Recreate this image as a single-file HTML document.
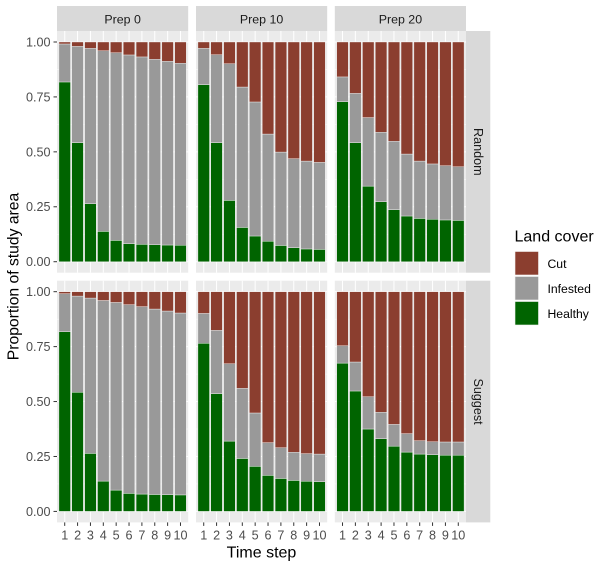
<!DOCTYPE html>
<html lang="en">
<head>
<meta charset="utf-8">
<title>Proportion of study area by land cover</title>
<style>
html,body{margin:0;padding:0;background:#fff;width:600px;height:567px;overflow:hidden}
svg{display:block}
text{font-family:"Liberation Sans",Arial,sans-serif}
</style>
</head>
<body>
<svg id="chart" xmlns="http://www.w3.org/2000/svg" width="600" height="567" viewBox="0 0 600 567">
  <rect x="0" y="0" width="600" height="567" fill="#fff"/>
  <g id="panels"></g>
  <g id="strips"></g>
  <g id="axes"></g>
  <text transform="translate(18.5,276.5) rotate(-90)" text-anchor="middle" font-size="15.7" fill="#000">Proportion of study area</text>
  <text x="261.5" y="557.5" text-anchor="middle" font-size="16" fill="#000">Time step</text>
  <g>
    <text x="514.5" y="241.5" font-size="16" fill="#000">Land cover</text>
    <g>
      <rect x="515" y="251.5" width="23.5" height="23.5" fill="#8b3e2f" stroke="#f2f2f2" stroke-width="0.6"/>
      <text x="547.5" y="268" font-size="12.2" fill="#000">Cut</text>
    </g>
    <g>
      <rect x="515" y="276.5" width="23.5" height="23.5" fill="#999999" stroke="#f2f2f2" stroke-width="0.6"/>
      <text x="547.5" y="293" font-size="12.2" fill="#000">Infested</text>
    </g>
    <g>
      <rect x="515" y="301.5" width="23.5" height="23.5" fill="#006400" stroke="#f2f2f2" stroke-width="0.6"/>
      <text x="547.5" y="318" font-size="12.2" fill="#000">Healthy</text>
    </g>
  </g>
</svg>
<script>
var timeSteps = [1, 2, 3, 4, 5, 6, 7, 8, 9, 10];
var yTicks = [0, 0.25, 0.5, 0.75, 1];
var yTickLabels = ["0.00", "0.25", "0.50", "0.75", "1.00"];
var prepLabels = ["Prep 0", "Prep 10", "Prep 20"];
var strategyLabels = ["Random", "Suggest"];

var healthyRandom0 = [0.818, 0.542, 0.264, 0.138, 0.097, 0.082, 0.079, 0.077, 0.076, 0.075];
var infestedRandom0 = [0.173, 0.438, 0.707, 0.822, 0.854, 0.859, 0.853, 0.844, 0.836, 0.828];
var cutRandom0 = [0.009, 0.020, 0.029, 0.040, 0.049, 0.059, 0.068, 0.079, 0.088, 0.097];

var healthyRandom10 = [0.806, 0.542, 0.279, 0.156, 0.117, 0.093, 0.074, 0.064, 0.058, 0.056];
var infestedRandom10 = [0.165, 0.400, 0.622, 0.639, 0.610, 0.488, 0.425, 0.405, 0.400, 0.396];
var cutRandom10 = [0.029, 0.058, 0.099, 0.205, 0.273, 0.419, 0.501, 0.531, 0.542, 0.548];

var healthyRandom20 = [0.728, 0.542, 0.344, 0.273, 0.237, 0.208, 0.197, 0.193, 0.190, 0.188];
var infestedRandom20 = [0.113, 0.224, 0.312, 0.316, 0.311, 0.282, 0.261, 0.252, 0.247, 0.244];
var cutRandom20 = [0.159, 0.234, 0.344, 0.411, 0.452, 0.510, 0.542, 0.555, 0.563, 0.568];

var healthySuggest0 = [0.818, 0.542, 0.264, 0.138, 0.097, 0.082, 0.079, 0.077, 0.076, 0.075];
var infestedSuggest0 = [0.173, 0.438, 0.707, 0.822, 0.854, 0.859, 0.853, 0.844, 0.836, 0.828];
var cutSuggest0 = [0.009, 0.020, 0.029, 0.040, 0.049, 0.059, 0.068, 0.079, 0.088, 0.097];

var healthySuggest10 = [0.765, 0.536, 0.320, 0.241, 0.205, 0.164, 0.150, 0.141, 0.137, 0.135];
var infestedSuggest10 = [0.136, 0.288, 0.352, 0.319, 0.243, 0.149, 0.140, 0.128, 0.126, 0.126];
var cutSuggest10 = [0.099, 0.176, 0.328, 0.440, 0.552, 0.687, 0.710, 0.731, 0.737, 0.739];

var healthySuggest20 = [0.675, 0.548, 0.375, 0.331, 0.297, 0.270, 0.261, 0.258, 0.256, 0.256];
var infestedSuggest20 = [0.079, 0.132, 0.147, 0.120, 0.099, 0.084, 0.061, 0.059, 0.060, 0.060];
var cutSuggest20 = [0.246, 0.320, 0.478, 0.549, 0.604, 0.646, 0.678, 0.683, 0.684, 0.684];

var panelData = [
  [[healthyRandom0, infestedRandom0, cutRandom0], [healthyRandom10, infestedRandom10, cutRandom10], [healthyRandom20, infestedRandom20, cutRandom20]],
  [[healthySuggest0, infestedSuggest0, cutSuggest0], [healthySuggest10, infestedSuggest10, cutSuggest10], [healthySuggest20, infestedSuggest20, cutSuggest20]]
];

var NS = 'http://www.w3.org/2000/svg';
var colLeft = [57, 196, 334.8];
var panelW = 131.2;
var rowTop = [31, 280.7];
var panelH = 241.7;
var stripTopY = 6;
var stripTopH = 25;
var stripRightX = 466;
var stripRightW = 24.3;
var seriesColors = ['#006400', '#999999', '#8b3e2f'];
var seriesNames = ['healthy', 'infested', 'cut'];

function xScale(step, col) {
  return colLeft[col] + (step - 1 + 0.6) * panelW / 10.2;
}
function yScale(v, row) {
  var plotH = panelH / 1.1;
  return rowTop[row] + panelH - plotH * 0.05 - v * plotH;
}
function make(tag, attrs, parent) {
  var el = document.createElementNS(NS, tag);
  for (var k in attrs) el.setAttribute(k, attrs[k]);
  parent.appendChild(el);
  return el;
}

var panels = document.getElementById('panels');
var strips = document.getElementById('strips');
var axes = document.getElementById('axes');

strategyLabels.forEach(function (strategy, r) {
  prepLabels.forEach(function (prep, c) {
    var g = make('g', {}, panels);
    
    
    var bg = make('rect', { x: colLeft[c], y: rowTop[r], width: panelW, height: panelH, fill: '#ebebeb' }, g);
    
    
    yTicks.forEach(function (t) {
      var gy = yScale(t, r);
      var line = make('line', { x1: colLeft[c], x2: colLeft[c] + panelW, y1: gy, y2: gy, stroke: '#fff', 'stroke-width': 1 }, g);
      
      
      if (t < 1) {
        var my = yScale(t + 0.125, r);
        var minor = make('line', { x1: colLeft[c], x2: colLeft[c] + panelW, y1: my, y2: my, stroke: '#fff', 'stroke-width': 0.5 }, g);
        
        
      }
    });
    timeSteps.forEach(function (s) {
      var gx = xScale(s, c);
      var vline = make('line', { x1: gx, x2: gx, y1: rowTop[r], y2: rowTop[r] + panelH, stroke: '#fff', 'stroke-width': 1 }, g);
      
      
    });
    var bw = 0.9 * panelW / 10.2;
    var series = panelData[r][c];
    timeSteps.forEach(function (s, i) {
      var base = 0;
      series.forEach(function (vals, k) {
        var y1 = yScale(base, r);
        var y2 = yScale(base + vals[i], r);
        var bar = make('rect', { x: xScale(s, c) - bw / 2, y: y2, width: bw, height: y1 - y2, fill: seriesColors[k], stroke: '#f4f4f4', 'stroke-width': 0.4 }, g);
        
        
        base += vals[i];
      });
    });
  });
});

prepLabels.forEach(function (prep, c) {
  var bg = make('rect', { x: colLeft[c], y: stripTopY, width: panelW, height: stripTopH, fill: '#d9d9d9' }, strips);
  
  
  var t = make('text', { x: colLeft[c] + panelW / 2, y: 23.5, 'text-anchor': 'middle', 'font-size': 12.4, fill: '#1a1a1a' }, strips);
  
  
  t.textContent = prep;
});

strategyLabels.forEach(function (strategy, r) {
  var bg = make('rect', { x: stripRightX, y: rowTop[r], width: stripRightW, height: panelH, fill: '#d9d9d9' }, strips);
  
  
  var cy = rowTop[r] + panelH / 2;
  var t = make('text', { transform: 'translate(474,' + cy + ') rotate(90)', 'text-anchor': 'middle', 'font-size': 12.6, fill: '#1a1a1a' }, strips);
  
  
  t.textContent = strategy;

  yTicks.forEach(function (v, i) {
    var py = yScale(v, r);
    var tick = make('line', { x1: 53.5, x2: 57, y1: py, y2: py, stroke: '#333', 'stroke-width': 1 }, axes);
    
    
    var lab = make('text', { x: 50.5, y: py + 4.4, 'text-anchor': 'end', 'font-size': 12.6, fill: '#4d4d4d' }, axes);
    
    
    lab.textContent = yTickLabels[i];
  });
});

prepLabels.forEach(function (prep, c) {
  timeSteps.forEach(function (s) {
    var px = xScale(s, c);
    var bottom = rowTop[1] + panelH;
    var tick = make('line', { x1: px, x2: px, y1: bottom, y2: bottom + 3.5, stroke: '#333', 'stroke-width': 1 }, axes);
    
    
    var lab = make('text', { x: px, y: 539.5, 'text-anchor': 'middle', 'font-size': 12.6, fill: '#4d4d4d' }, axes);
    
    
    lab.textContent = s;
  });
});
</script>
</body>
</html>
